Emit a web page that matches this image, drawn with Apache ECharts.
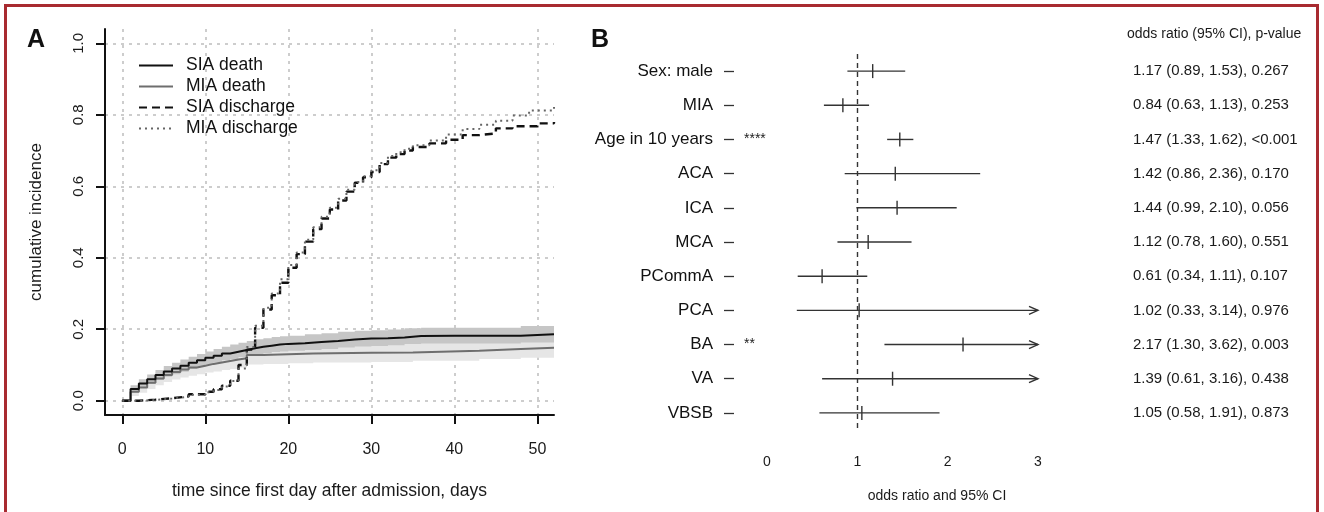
<!DOCTYPE html>
<html><head><meta charset="utf-8">
<script src="https://cdn.jsdelivr.net/npm/echarts@6/dist/echarts.min.js"></script>
<style>
html,body{margin:0;padding:0;background:#fff;}
#chart{position:absolute;left:0;top:0;width:1324px;height:512px;}
#frame{position:absolute;left:4px;top:4px;width:1309px;height:520px;border:3px solid #a82a30;pointer-events:none;}
</style></head><body>
<div id="chart"></div><div id="frame"></div>
<script>
// ---------- Panel A data ----------
const xTicksA = [0, 10, 20, 30, 40, 50];
const yTicksA = [0, 0.2, 0.4, 0.6, 0.8, 1.0];

const siaDeathDays = [0,1,2,3,4,5,6,7,8,9,10,11,12,13,14,15,16,17,18,19,20,22,24,26,28,30,32,34,36,40,44,48,52];
const siaDeath     = [0,0.033,0.048,0.060,0.072,0.082,0.090,0.098,0.106,0.113,0.120,0.126,0.132,0.137,0.142,0.147,0.151,0.154,0.157,0.159,0.161,0.164,0.167,0.171,0.174,0.175,0.177,0.181,0.182,0.182,0.182,0.186,0.186];
const siaDeathLo   = [0,0.023,0.036,0.047,0.058,0.067,0.074,0.081,0.089,0.095,0.102,0.107,0.113,0.117,0.122,0.127,0.130,0.133,0.136,0.138,0.140,0.142,0.145,0.149,0.152,0.153,0.155,0.159,0.160,0.160,0.160,0.163,0.163];
const siaDeathHi   = [0,0.043,0.060,0.073,0.086,0.097,0.106,0.115,0.123,0.131,0.138,0.145,0.151,0.157,0.162,0.167,0.172,0.175,0.178,0.180,0.182,0.186,0.189,0.193,0.196,0.197,0.199,0.203,0.204,0.204,0.204,0.209,0.209];

const miaDeathDays = [0,1,2,3,4,5,6,7,8,9,10,11,12,13,14,15,17,20,23,30,35,43,48,52];
const miaDeath     = [0,0.025,0.037,0.050,0.062,0.072,0.080,0.087,0.093,0.098,0.103,0.107,0.111,0.115,0.119,0.128,0.130,0.132,0.134,0.135,0.140,0.145,0.148,0.148];
const miaDeathLo   = [0,0.013,0.022,0.033,0.043,0.052,0.059,0.065,0.070,0.074,0.079,0.082,0.086,0.089,0.093,0.101,0.103,0.105,0.107,0.108,0.112,0.117,0.120,0.120];
const miaDeathHi   = [0,0.037,0.052,0.067,0.081,0.092,0.101,0.109,0.116,0.122,0.127,0.132,0.136,0.141,0.145,0.155,0.157,0.159,0.161,0.162,0.168,0.173,0.176,0.176];

const siaDisDays = [0,2,4,6,8,10,11,12,13,14,15,16,17,18,19,20,21,22,23,24,25,26,27,28,29,30,31,32,33,34,35,37,39,41,43,45,47,50,52];
const siaDis     = [0,0.003,0.007,0.012,0.018,0.025,0.032,0.042,0.056,0.100,0.143,0.204,0.255,0.295,0.330,0.372,0.410,0.445,0.480,0.510,0.535,0.560,0.585,0.610,0.625,0.640,0.662,0.680,0.690,0.700,0.710,0.720,0.730,0.743,0.748,0.762,0.768,0.776,0.780];

const miaDisDays = [0,2,4,6,8,10,11,12,13,14,15,16,17,18,19,20,21,22,23,24,25,26,27,28,29,30,31,32,33,34,35,37,39,41,43,45,47,49,52];
const miaDis     = [0,0.002,0.006,0.011,0.017,0.024,0.030,0.040,0.055,0.090,0.150,0.210,0.260,0.300,0.340,0.380,0.415,0.450,0.485,0.515,0.540,0.565,0.590,0.612,0.628,0.645,0.665,0.685,0.695,0.705,0.715,0.728,0.745,0.760,0.772,0.783,0.798,0.812,0.822];

// ---------- Panel B data ----------
const varLabels = ['Sex: male','MIA','Age in 10 years','ACA','ICA','MCA','PCommA','PCA','BA','VA','VBSB'];
const oddsRatio = [1.17,0.84,1.47,1.42,1.44,1.12,0.61,1.02,2.17,1.39,1.05];
const ciLower   = [0.89,0.63,1.33,0.86,0.99,0.78,0.34,0.33,1.30,0.61,0.58];
const ciUpper   = [1.53,1.13,1.62,2.36,2.10,1.60,1.11,3.14,3.62,3.16,1.91];
const pValues   = ['0.267','0.253','<0.001','0.170','0.056','0.551','0.107','0.976','0.003','0.438','0.873'];
const sigStars  = ['','','****','','','','','','**','',''];
const xTicksB   = [0, 1, 2, 3];
const refOR     = 1;

const pairs = (xs, ys) => xs.map((x, i) => [x, ys[i]]);
const orText = varLabels.map((_, i) =>
  oddsRatio[i].toFixed(2) + ' (' + ciLower[i].toFixed(2) + ', ' + ciUpper[i].toFixed(2) + '), ' + pValues[i]);

const FONT = 'Liberation Sans, Arial, Helvetica, sans-serif';
const chart = echarts.init(document.getElementById('chart'), null, {renderer: 'canvas'});
const xMaxB = xTicksB[xTicksB.length - 1];

// step-shaped confidence band drawn through the axis scales
function bandSeries(name, days, lo, hi, color) {
  return {
    name: name, type: 'custom', xAxisIndex: 0, yAxisIndex: 0, silent: true,
    data: [[days[0], lo[0]]], encode: {x: 0, y: 1},
    renderItem: function (params, api) {
      const pts = [];
      const n = days.length;
      for (let i = 0; i < n; i++) {
        const xe = i + 1 < n ? days[i + 1] : days[i];
        pts.push(api.coord([days[i], hi[i]]), api.coord([xe, hi[i]]));
      }
      for (let i = n - 1; i >= 0; i--) {
        const xe = i + 1 < n ? days[i + 1] : days[i];
        pts.push(api.coord([xe, lo[i]]), api.coord([days[i], lo[i]]));
      }
      return {type: 'polygon', shape: {points: pts}, style: {fill: color, stroke: null}};
    }
  };
}

const option = {
  animation: false,
  backgroundColor: '#fff',
  textStyle: {fontFamily: FONT, color: '#1a1a1a'},
  title: [
    {text: 'A', left: 27, top: 28, padding: 0, textStyle: {fontSize: 25, fontWeight: 'bold', color: '#111', fontFamily: FONT}},
    {text: 'B', left: 591, top: 28, padding: 0, textStyle: {fontSize: 25, fontWeight: 'bold', color: '#111', fontFamily: FONT}},
    {text: 'odds ratio (95% CI), p-value', left: 1127, top: 27, padding: 0, textStyle: {fontSize: 14, fontWeight: 'normal', color: '#1a1a1a', fontFamily: FONT}}
  ],
  legend: {
    data: ['SIA death', 'MIA death', 'SIA discharge', 'MIA discharge'],
    orient: 'vertical', left: 138, top: 55, padding: 0,
    itemWidth: 34, itemHeight: 14, itemGap: 0,
    itemStyle: {opacity: 0},
    textStyle: {fontSize: 17.5, lineHeight: 21, color: '#111', fontFamily: FONT, padding: [0, 0, 0, 8]},
    selectedMode: false
  },
  grid: [
    {left: 105, top: 29, width: 449, height: 386, containLabel: false},
    {left: 767, top: 54, width: 271, height: 376, containLabel: false},
    {left: 734, top: 54, width: 9, height: 376, containLabel: false}
  ],
  xAxis: [
    {
      gridIndex: 0, type: 'value', min: -2.08, max: 52,
      axisLine: {show: true, onZero: false, lineStyle: {color: '#111', width: 2}},
      axisTick: {show: true, length: 9, lineStyle: {color: '#111', width: 2}, customValues: xTicksA},
      axisLabel: {customValues: xTicksA, fontSize: 16, color: '#1a1a1a', margin: 27},
      splitLine: {show: true, lineStyle: {color: '#bdbdbd', width: 1.5, type: [3, 5]}},
      name: 'time since first day after admission, days', nameLocation: 'middle', nameGap: 67,
      nameTextStyle: {fontSize: 17.5, color: '#1a1a1a'}
    },
    {
      gridIndex: 1, type: 'value', min: 0, max: xMaxB, interval: 1,
      axisLine: {show: false}, axisTick: {show: false}, splitLine: {show: false},
      axisLabel: {fontSize: 14, color: '#1a1a1a', margin: 25},
      name: 'odds ratio and 95% CI', nameLocation: 'middle', nameGap: 59,
      nameTextStyle: {fontSize: 14, color: '#1a1a1a', padding: [0, 0, 0, 69]}
    },
    {gridIndex: 2, type: 'value', show: false}
  ],
  yAxis: [
    {
      gridIndex: 0, type: 'value', min: -0.04, max: 1.04,
      axisLine: {show: true, onZero: false, lineStyle: {color: '#111', width: 2}},
      axisTick: {show: true, length: 9, lineStyle: {color: '#111', width: 2}, customValues: yTicksA},
      axisLabel: {customValues: yTicksA, rotate: 90, fontSize: 15, color: '#1a1a1a', margin: 19,
                  formatter: v => v.toFixed(1)},
      splitLine: {show: true, lineStyle: {color: '#bdbdbd', width: 1.5, type: [3, 5]}},
      name: 'cumulative incidence', nameLocation: 'middle', nameGap: 60,
      nameTextStyle: {fontSize: 17, color: '#1a1a1a'}
    },
    {
      gridIndex: 1, type: 'category', data: orText, inverse: true, position: 'right', offset: 95,
      axisLine: {show: false}, axisTick: {show: false}, splitLine: {show: false},
      axisLabel: {margin: 0, fontSize: 15, color: '#1a1a1a', interval: 0}
    },
    {
      gridIndex: 2, type: 'category', data: varLabels, inverse: true, position: 'left',
      axisLine: {show: false},
      axisTick: {show: true, length: 10, alignWithLabel: true, lineStyle: {color: '#333', width: 1.3}},
      axisLabel: {fontSize: 17, color: '#111', margin: 21, interval: 0},
      splitLine: {show: false}
    },
    {
      gridIndex: 2, type: 'category', data: sigStars, inverse: true, position: 'right',
      axisLine: {show: false}, axisTick: {show: false}, splitLine: {show: false},
      axisLabel: {margin: 1, fontSize: 14, color: '#222', interval: 0, padding: [6, 0, 0, 0]}
    }
  ],
  series: [
    bandSeries('mia-band', miaDeathDays, miaDeathLo, miaDeathHi, '#e6e6e6'),
    bandSeries('sia-band', siaDeathDays, siaDeathLo, siaDeathHi, '#c6c6c6'),
    {name: 'MIA death', type: 'line', step: 'end', symbol: 'none', data: pairs(miaDeathDays, miaDeath),
     itemStyle: {color: '#6e6e6e'}, lineStyle: {color: '#6e6e6e', width: 2}},
    {name: 'SIA death', type: 'line', step: 'end', symbol: 'none', data: pairs(siaDeathDays, siaDeath),
     itemStyle: {color: '#111'}, lineStyle: {color: '#111', width: 2}},
    {name: 'SIA discharge', type: 'line', step: 'end', symbol: 'none', data: pairs(siaDisDays, siaDis),
     itemStyle: {color: '#111'}, lineStyle: {color: '#111', width: 2.4, type: [8, 5]}},
    {name: 'MIA discharge', type: 'line', step: 'end', symbol: 'none', data: pairs(miaDisDays, miaDis),
     itemStyle: {color: '#666'}, lineStyle: {color: '#666', width: 2, type: [2, 4]}},
    {
      name: 'forest', type: 'custom', xAxisIndex: 1, yAxisIndex: 1, clip: false, silent: true,
      data: varLabels.map((_, i) => [oddsRatio[i], i, ciLower[i], ciUpper[i]]),
      encode: {x: 0, y: 1},
      renderItem: function (params, api) {
        const or = api.value(0), idx = api.value(1), lo = api.value(2), hi = api.value(3);
        const a = api.coord([lo, idx]);
        const b = api.coord([Math.min(hi, xMaxB), idx]);
        const c = api.coord([or, idx]);
        const st = {stroke: '#333', lineWidth: 1.4, fill: null};
        const kids = [
          {type: 'line', shape: {x1: a[0], y1: a[1], x2: b[0], y2: b[1]}, style: st},
          {type: 'line', shape: {x1: c[0], y1: c[1] - 7, x2: c[0], y2: c[1] + 7}, style: st}
        ];
        if (hi > xMaxB) {
          kids.push({type: 'polyline', shape: {points: [[b[0] - 9, b[1] - 4], [b[0], b[1]], [b[0] - 9, b[1] + 4]]}, style: st});
        }
        return {type: 'group', children: kids};
      }
    },
    {
      name: 'ref', type: 'scatter', xAxisIndex: 1, yAxisIndex: 1, symbolSize: 0, silent: true,
      data: [[refOR, 0]],
      markLine: {
        silent: true, symbol: 'none', label: {show: false},
        lineStyle: {color: '#333', width: 1.4, type: [5, 4]},
        data: [{xAxis: refOR}]
      }
    }
  ]
};
chart.setOption(option);
</script>
</body></html>
